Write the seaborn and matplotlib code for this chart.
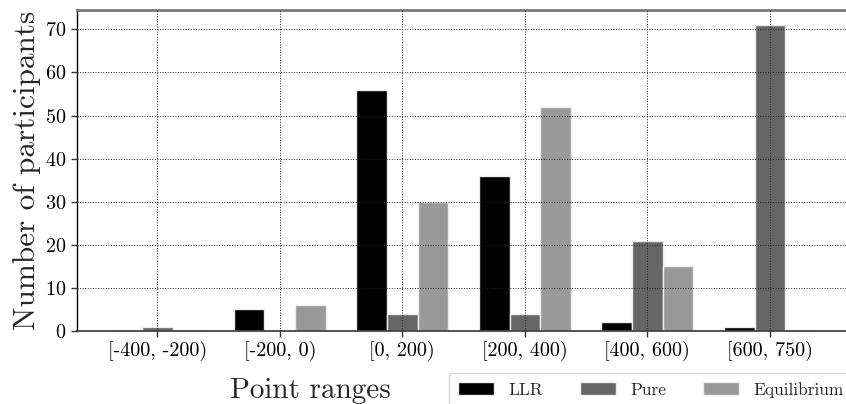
import os
import matplotlib
matplotlib.use("Agg")
import matplotlib.pyplot as plt
from matplotlib import font_manager
import seaborn as sns
import pandas as pd

ranges = ["[-400, -200)", "[-200, 0)", "[0, 200)", "[200, 400)", "[400, 600)", "[600, 750)"]
llr = [0, 5, 56, 36, 2, 1]
pure = [1, 0, 4, 4, 21, 71]
equilibrium = [0, 6, 30, 52, 15, 0]

df = pd.DataFrame({"range": ranges, "LLR": llr, "Pure": pure, "Equilibrium": equilibrium})
df_melt = df.melt(id_vars=["range"], var_name="method", value_name="count")

# computer modern, shipped with matplotlib
cm_path = os.path.join(matplotlib.get_data_path(), "fonts", "ttf", "cmr10.ttf")
font_manager.fontManager.addfont(cm_path)
cm_name = font_manager.FontProperties(fname=cm_path).get_name()

sns.set_style("white")
plt.rcParams["font.family"] = [cm_name, "DejaVu Serif"]
plt.rcParams["mathtext.fontset"] = "cm"
plt.rcParams["axes.formatter.use_mathtext"] = True
plt.rcParams["axes.unicode_minus"] = False

fig = plt.figure(figsize=(8.46, 4.04), dpi=100)
ax = fig.add_axes([0.091, 0.1807, 0.9125, 0.7946])
sns.barplot(data=df_melt, x="range", y="count", hue="method", ax=ax,
            palette=["#000000", "#666666", "#999999"], width=0.75,
            edgecolor="#eeeeee", linewidth=1, legend=True)

ax.set_xlim(-0.655, 5.645)
ax.set_ylim(0, 74.5)
ax.set_yticks(range(0, 71, 10))
ax.grid(True, linestyle=":", color="#222222", linewidth=0.7)
ax.set_axisbelow(False)
ax.tick_params(axis="both", labelsize=14.5, direction="out", length=4, width=1,
               bottom=True, left=True, colors="#333333")
ax.tick_params(axis="both", labelcolor="black")

ax.set_xlabel("Point ranges", fontsize=21)
ax.xaxis.set_label_coords(0.302, -0.145)
ax.set_ylabel("Number of participants", fontsize=22.5, labelpad=3)

ax.spines["top"].set_color("#777777")
ax.spines["top"].set_linewidth(2)
ax.spines["bottom"].set_color("#444444")
ax.spines["bottom"].set_linewidth(1.3)
ax.spines["left"].set_color("black")
ax.spines["left"].set_linewidth(1)
ax.spines["right"].set_visible(False)

handles, labels = ax.get_legend_handles_labels()
ax.legend(handles, labels, loc="upper left", bbox_to_anchor=(0.5307, 0.0767),
          bbox_transform=fig.transFigure, borderaxespad=0, ncol=3, fontsize=12.5,
          frameon=True, edgecolor="#cccccc", handlelength=2.07, handleheight=0.7,
          handletextpad=0.86, columnspacing=2.1, borderpad=0.5)

plt.savefig("out.png", dpi=100)
